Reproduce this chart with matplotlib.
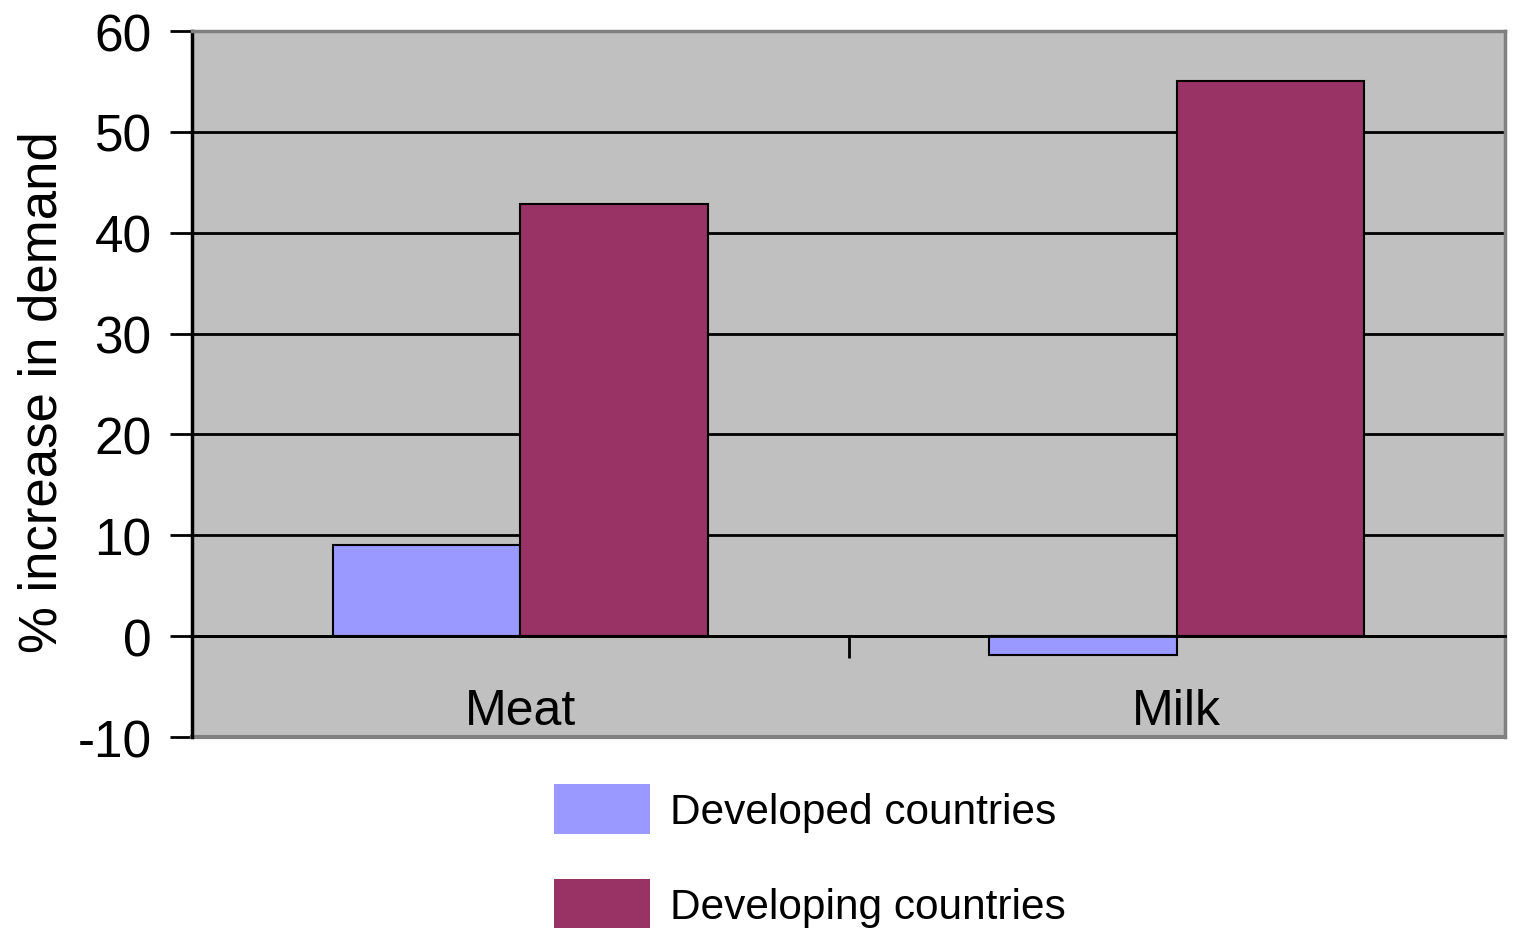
import matplotlib
matplotlib.use("Agg")
import matplotlib.pyplot as plt
import numpy as np
from matplotlib.patches import Patch

plt.rcParams['font.family'] = ['Liberation Sans', 'DejaVu Sans']

# data
categories = ["Meat", "Milk"]
series_names = ["Developed countries", "Developing countries"]
developed = [9.0, -1.9]
developing = [42.8, 55.0]
y_ticks = [-10, 0, 10, 20, 30, 40, 50, 60]

colors = ["#9999FF", "#993366"]
grey_bg = "#C0C0C0"
frame_grey = "#808080"

fig = plt.figure(figsize=(15.14, 9.29), dpi=100)
ax = fig.add_axes([192 / 1514, 191 / 929, 1313 / 1514, 706 / 929])
ax.set_facecolor(grey_bg)

x = np.arange(len(categories))
w = 1 / 3.5  # excel gap width 150%
ax.bar(x - w / 2, developed, w, color=colors[0], edgecolor="black", linewidth=1.5, zorder=3)
ax.bar(x + w / 2, developing, w, color=colors[1], edgecolor="black", linewidth=1.5, zorder=3)

ax.set_xlim(-0.5, len(categories) - 0.5)
ax.set_ylim(y_ticks[0], y_ticks[-1])
ax.set_yticks(y_ticks)
ax.set_yticklabels([str(t) for t in y_ticks])
ax.grid(axis="y", color="black", linewidth=2, zorder=1)
ax.set_axisbelow(True)
ax.tick_params(axis="y", length=16, width=2, pad=13, labelsize=37)

# category axis crosses at zero
ax.spines["bottom"].set_position(("data", 0))
ax.spines["bottom"].set_linewidth(2)
ax.spines["bottom"].set_zorder(4)
ax.spines["left"].set_linewidth(2.5)
for s in ["top", "right"]:
    ax.spines[s].set_color(frame_grey)
    ax.spines[s].set_linewidth(2.5)
ax.plot([0, 1], [0, 0], transform=ax.transAxes, color=frame_grey, lw=3, clip_on=False)

ax.set_xticks(x + 0.5, minor=True)
ax.set_xticks([])
ax.tick_params(axis="x", which="minor", direction="out", length=16, width=2, labelbottom=False)
for i, c in enumerate(categories):
    ax.text(x[i], -7.45, c, ha="center", va="center", fontsize=36)

ax.set_ylabel("% increase in demand", fontsize=38)
ax.yaxis.set_label_coords(-0.095, 0.49)

handles = [Patch(facecolor=col, edgecolor="none") for col in colors]
fig.legend(handles, series_names, loc="upper left", bbox_to_anchor=(554 / 1514, 1 - 785 / 929),
           frameon=False, fontsize=30.5, handlelength=2.26, handleheight=1.44,
           handletextpad=0.47, labelspacing=1.05, borderpad=0, borderaxespad=0)

fig.savefig("out.png", dpi=100)
